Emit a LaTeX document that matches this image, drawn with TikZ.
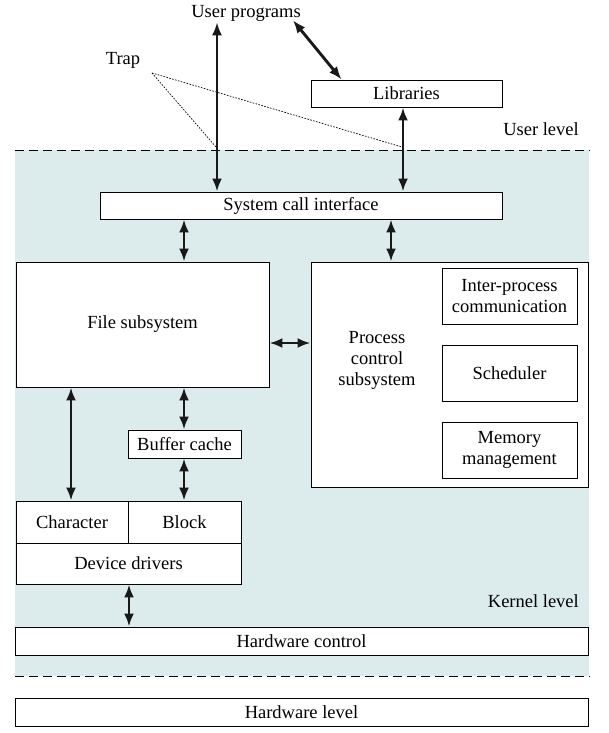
\documentclass[tikz,border=0pt]{standalone}
\usepackage{fontspec}
\setmainfont{Liberation Serif}
\usetikzlibrary{arrows.meta}
\definecolor{kern}{RGB}{220,235,236}
\tikzset{
  box/.style={draw=black, line width=0.9pt, fill=white, inner sep=0pt, align=center},
  dbl/.style={line width=2.9pt, {Latex[length=13pt,width=10pt]}-{Latex[length=13pt,width=10pt]}, color={rgb,255:red,25;green,25;blue,25}},
  lvl/.style={line width=0.9pt, dash pattern=on 9pt off 5pt},
  trapline/.style={line width=0.7pt, dash pattern=on 1.6pt off 1.4pt},
  lbl/.style={inner sep=1pt}
}
\begin{document}
\begin{tikzpicture}[x=1pt,y=-1pt,font=\fontsize{18.5}{21}\selectfont]
\useasboundingbox (0,0) rectangle (608,733);
% kernel shading
\fill[kern] (15,150) rectangle (589,676);
\draw[lvl] (15,150) -- (590,150);
\draw[lvl] (15,676) -- (590,676);

% boxes
\node[box, minimum width=191pt, minimum height=27pt] (lib) at (406.5,93.5) {Libraries};
\node[box, minimum width=402pt, minimum height=27pt] (sci) at (301,205.5) {System call interface};
\node[box, minimum width=253pt, minimum height=125pt] (fs) at (142.5,324.5) {File subsystem};
\node[box, minimum width=277pt, minimum height=225pt] (pcs) at (449.5,374.5) {};
\node[align=center, inner sep=0pt] (pcst) at (377,360) {Process\\control\\subsystem};
\node[box, minimum width=135pt, minimum height=56pt] (ipc) at (509.5,296) {Inter-process\\communication};
\node[box, minimum width=135pt, minimum height=56pt] (sched) at (509.5,373) {Scheduler};
\node[box, minimum width=135pt, minimum height=56pt] (mem) at (509.5,450) {Memory\\management};
\node[box, minimum width=113pt, minimum height=28pt] (bc) at (184.5,444) {Buffer cache};
\node[box, minimum width=112pt, minimum height=42pt] (chr) at (72,522) {Character};
\node[box, minimum width=113pt, minimum height=42pt] (blk) at (184.5,522) {Block};
\node[box, minimum width=225pt, minimum height=41pt] (dd) at (128.5,563.5) {Device drivers};
\node[box, minimum width=573pt, minimum height=28pt] (hwc) at (301.5,641) {Hardware control};
\node[box, minimum width=573pt, minimum height=28pt] (hwl) at (301.5,712) {Hardware level};

% labels
\node[lbl] (up) at (246,13) {User programs};
\node[lbl] (trap) at (123,60) {Trap};
\node[lbl, anchor=east] (ul) at (580,129) {User level};
\node[lbl, anchor=east] (kl) at (580,601) {Kernel level};

% connector coordinates
\coordinate (xa) at (217,0);
\coordinate (xb) at (403,0);
\coordinate (xc) at (184,0);
\coordinate (xd) at (391,0);
\coordinate (xe) at (71,0);
\coordinate (xf) at (129,0);
\coordinate (yh) at (0,343);
\coordinate (tp) at (152,73);
\coordinate (t1) at (216,147);
\coordinate (t2) at (402,147);

% trap lines
\draw[trapline] (tp) -- (t1);
\draw[trapline] (tp) -- (t2);

% arrows
\draw[dbl] (up.south -| xa) -- (sci.north -| xa);
\draw[dbl] ([xshift=-9pt,yshift=2pt]up.south east) -- ([xshift=31pt]lib.north west);
\draw[dbl] (lib.south -| xb) -- (sci.north -| xb);
\draw[dbl] (sci.south -| xc) -- (fs.north -| xc);
\draw[dbl] (sci.south -| xd) -- (pcs.north -| xd);
\draw[dbl] (fs.east |- yh) -- (pcs.west |- yh);
\draw[dbl] (fs.south -| xe) -- (chr.north -| xe);
\draw[dbl] (fs.south -| xc) -- (bc.north -| xc);
\draw[dbl] (bc.south -| xc) -- (blk.north -| xc);
\draw[dbl] (dd.south -| xf) -- (hwc.north -| xf);
\end{tikzpicture}
\end{document}
